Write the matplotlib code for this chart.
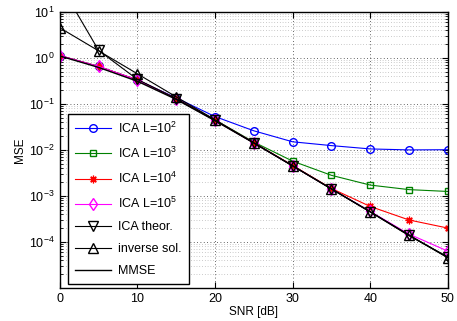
import numpy as np
import matplotlib
matplotlib.use('Agg')
import matplotlib.pyplot as plt
from matplotlib.ticker import LogLocator, NullFormatter

plt.rcParams['font.family'] = ['Liberation Sans', 'DejaVu Sans']
plt.rcParams['mathtext.fontset'] = 'custom'
plt.rcParams['mathtext.rm'] = 'Liberation Sans'

# SNR axis
snr = [0, 5, 10, 15, 20, 25, 30, 35, 40, 45, 50]

# MSE curves
ica_l2 = [1.12, 0.65, 0.33, 0.135, 0.053, 0.026, 0.015, 0.0124, 0.0105, 0.0100, 0.0101]
ica_l3 = [1.12, 0.65, 0.33, 0.13, 0.045, 0.0148, 0.0057, 0.0028, 0.00172, 0.00137, 0.00125]
ica_l4 = [1.12, 0.65, 0.33, 0.13, 0.044, 0.0143, 0.0046, 0.00145, 0.00059, 0.0003, 0.0002]
ica_l5 = [1.12, 0.65, 0.33, 0.13, 0.044, 0.0142, 0.0045, 0.00142, 0.00046, 0.000148, 6.3e-5]
ica_theor = [40.0, 1.45, 0.34, 0.13, 0.044, 0.0142, 0.0045, 0.00142, 0.00045, 0.000138, 4.7e-5]
inverse_sol = [4.5, 1.42, 0.45, 0.142, 0.045, 0.0142, 0.0045, 0.00142, 0.00045, 0.000142, 4.5e-5]
mmse = [1.1, 0.62, 0.31, 0.125, 0.043, 0.0141, 0.0045, 0.00142, 0.00045, 0.000138, 4.6e-5]

fig = plt.figure(figsize=(4.57, 3.21), dpi=100)
ax = fig.add_axes([0.131, 0.103, 0.849, 0.860])

lw = 0.8
ms = 5.5
ax.semilogy(snr, ica_l2, '-o', color='blue', lw=lw, ms=ms, mfc='none', label=r'ICA L=$10^2$')
ax.semilogy(snr, ica_l3, '-s', color='#008000', lw=lw, ms=ms - 0.5, mfc='none', label=r'ICA L=$10^3$')
ax.semilogy(snr, ica_l4, '-', marker=(8, 2, 0), color='red', lw=lw, ms=ms, mew=0.9, label=r'ICA L=$10^4$')
ax.semilogy(snr, ica_l5, '-d', color='magenta', lw=lw, ms=ms + 1, mfc='none', label=r'ICA L=$10^5$')
ax.semilogy(snr, ica_theor, '-v', color='black', lw=lw, ms=ms + 1, mfc='none', label='ICA theor.')
ax.semilogy(snr, inverse_sol, '-^', color='black', lw=lw, ms=ms + 1, mfc='none', label='inverse sol.')
ax.semilogy(snr, mmse, '-', color='black', lw=1.0, label='MMSE')

ax.set_xlim(0, 50)
ax.set_ylim(1e-5, 1e1)
ax.set_xticks([0, 10, 20, 30, 40, 50])
ax.yaxis.set_minor_locator(LogLocator(base=10, subs=np.arange(2, 10), numticks=20))
ax.yaxis.set_minor_formatter(NullFormatter())
ax.set_yticks([1e-4, 1e-3, 1e-2, 1e-1, 1e0, 1e1])

ax.grid(True, which='major', linestyle=(0, (1, 3)), color='black', lw=0.6, alpha=0.8)
ax.grid(True, which='minor', axis='y', linestyle=(0, (1, 3)), color='black', lw=0.5, alpha=0.4)
ax.tick_params(which='both', direction='in', top=True, right=True, labelsize=9)
ax.tick_params(which='major', length=4)
ax.tick_params(which='minor', length=2)
for s in ax.spines.values():
    s.set_linewidth(1.0)

ax.set_xlabel('SNR [dB]', fontsize=8.5, labelpad=1)
ax.set_ylabel('MSE', fontsize=8.5, labelpad=2)

leg = ax.legend(loc='lower left', bbox_to_anchor=(0.02, 0.014), borderaxespad=0, fontsize=9,
                fancybox=False, framealpha=1, edgecolor='black', handlelength=2.9,
                labelspacing=0.8, borderpad=0.55, handletextpad=0.6)
leg.get_frame().set_linewidth(1.0)

fig.savefig('out.png', dpi=100)
